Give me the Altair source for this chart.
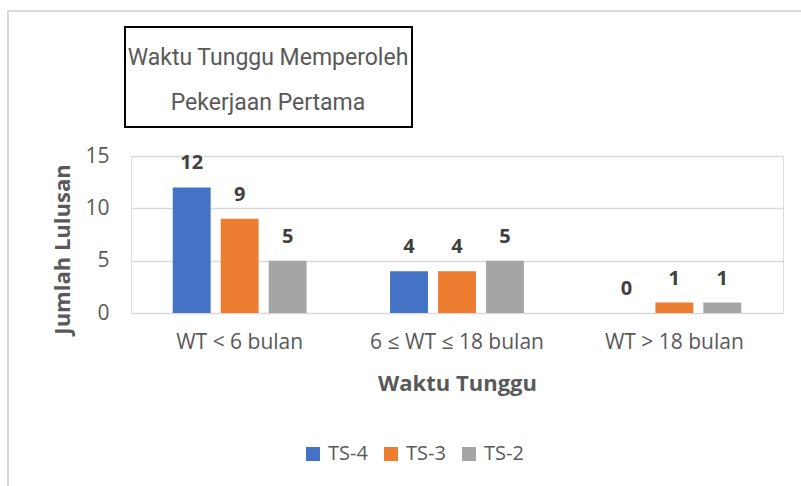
import altair as alt
import pandas as pd

categories = ["WT < 6 bulan", "6 ≤ WT ≤ 18 bulan", "WT > 18 bulan"]
series = ["TS-4", "TS-3", "TS-2"]
ts4 = [12, 4, 0]
ts3 = [9, 4, 1]
ts2 = [5, 5, 1]
colors = ["#4472c4", "#ed7d31", "#a5a5a5"]
title_lines = ["Waktu Tunggu Memperoleh", "Pekerjaan Pertama"]

rows = []
for s, vals in zip(series, [ts4, ts3, ts2]):
    for c, v in zip(categories, vals):
        rows.append({"Kategori": c, "Seri": s, "Nilai": v})
df = pd.DataFrame(rows)
one = pd.DataFrame({"k": [0]})

FONT = "Open Sans"
TXT = "#595959"

base = alt.Chart(df).encode(
    x=alt.X("Kategori:N", sort=categories,
            scale=alt.Scale(paddingInner=0.34, paddingOuter=0.17),
            axis=alt.Axis(title="Waktu Tunggu", labelAngle=0, ticks=False, domain=False,
                          labelFontSize=21, labelColor=TXT, labelFont=FONT, labelPadding=18,
                          titleFontSize=22, titleFontWeight="bold", titleColor=TXT, titleFont=FONT,
                          titleY=70, titleBaseline="middle")),
    xOffset=alt.XOffset("Seri:N", sort=series,
                        scale=alt.Scale(paddingInner=0.21, paddingOuter=0.1)),
)

bars = base.mark_bar().encode(
    y=alt.Y("Nilai:Q", scale=alt.Scale(domain=[0, 15], nice=False),
            axis=alt.Axis(title="Jumlah Lulusan", values=[0, 5, 10, 15], ticks=False, domain=False,
                          gridColor="#d9d9d9", gridWidth=1.5,
                          labelFontSize=21, labelColor=TXT, labelFont=FONT, labelPadding=22,
                          titleFontSize=22, titleFontWeight="bold", titleColor=TXT, titleFont=FONT,
                          titleX=-69, titleY=93, titleAngle=-90, titleAlign="center",
                          titleBaseline="middle")),
    color=alt.Color("Seri:N", sort=series, scale=alt.Scale(domain=series, range=colors),
                    legend=alt.Legend(title=None, orient="none", direction="horizontal",
                                      legendX=172, legendY=288, symbolType="square",
                                      symbolSize=196, symbolStrokeWidth=0,
                                      labelFontSize=20, labelColor=TXT, labelFont=FONT,
                                      columnPadding=13, symbolOffset=0, labelOffset=5)),
)

labels = base.mark_text(baseline="bottom", dy=-14, fontSize=20, fontWeight="bold",
                        color="#404040", font=FONT).encode(
    y="Nilai:Q", text="Nilai:Q")

outer = alt.Chart(one).mark_rect(fill=None, stroke="#d9d9d9", strokeWidth=2).encode(
    x=alt.value(-123), x2=alt.value(679), y=alt.value(-145), y2=alt.value(344))

title_box = alt.Chart(one).mark_rect(fill="white", stroke="black", strokeWidth=2).encode(
    x=alt.value(-6), x2=alt.value(281), y=alt.value(-129), y2=alt.value(-29))

title_text = alt.Chart(one).mark_text(fontSize=23, color=TXT, font="Roboto", baseline="middle",
                                      align="center", lineHeight=45).encode(
    x=alt.value(137), y=alt.value(-98), text=alt.value(title_lines))

chart = alt.layer(outer, bars, labels, title_box, title_text).properties(
    width=652, height=157,
    autosize=alt.AutoSizeParams(type="none"),
    padding={"left": 131, "top": 156, "right": 18, "bottom": 173},
).configure_view(stroke=None).configure(background="white")

chart.save("out.html", embed_options={"renderer": "svg", "actions": False})
